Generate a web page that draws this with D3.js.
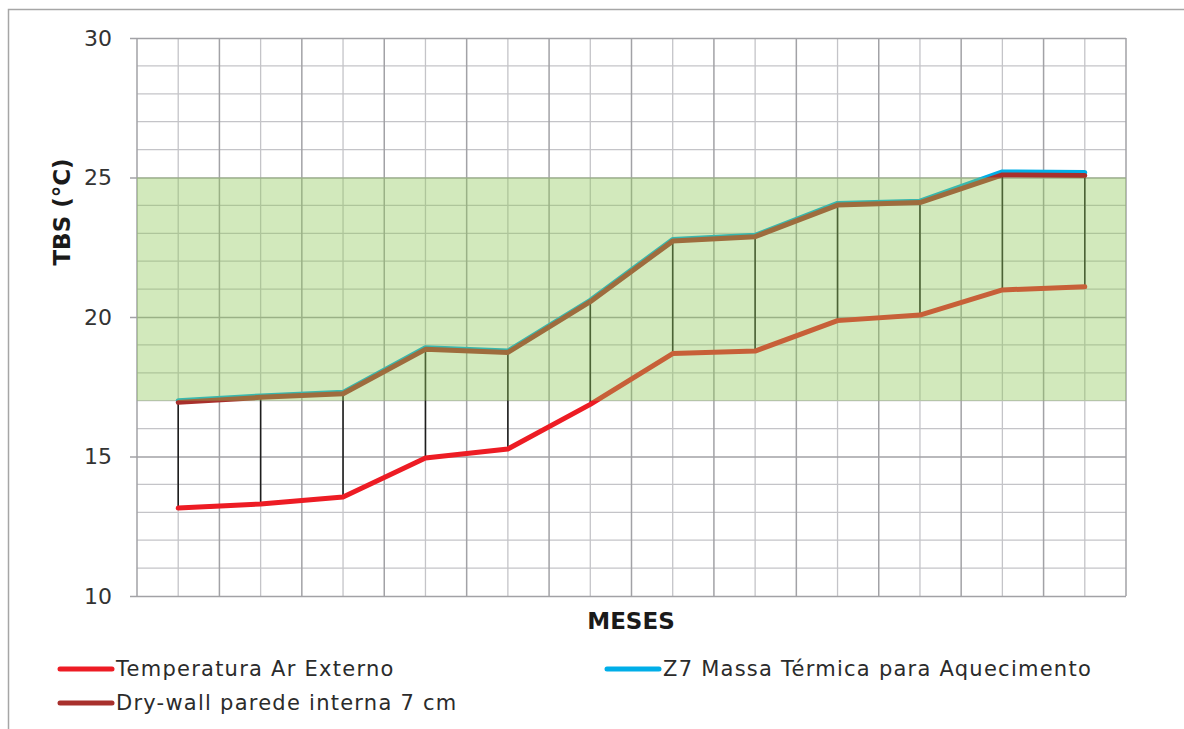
<!DOCTYPE html>
<html>
<head>
<meta charset="utf-8">
<script src="https://cdn.jsdelivr.net/npm/d3@7"></script>
<style>
    body { margin: 0; background: #fff; }
    svg { display: block; font-family: 'DejaVu Sans', 'Open Sans', sans-serif; }
</style>
</head>
<body>
<script>

// months (labels are not shown on the chart)
const months = ['Jan', 'Fev', 'Mar', 'Abr', 'Mai', 'Jun', 'Jul', 'Ago', 'Set', 'Out', 'Nov', 'Dez']

const arExterno = [13.15, 13.3, 13.55, 14.95, 15.27, 16.87, 18.69, 18.78, 19.87, 20.07, 20.97, 21.08]
const z7Massa = [17.0, 17.17, 17.3, 18.9, 18.78, 20.6, 22.78, 22.93, 24.07, 24.15, 25.2, 25.18]
const dryWall = [16.94, 17.12, 17.25, 18.84, 18.73, 20.55, 22.72, 22.88, 24.01, 24.1, 25.09, 25.07]

const comfortBand = [17, 25]
const yTicks = [10, 15, 20, 25, 30]

const series = [
    { name: 'Temperatura Ar Externo', values: arExterno, color: '#ed1c24' },
    { name: 'Z7 Massa Térmica para Aquecimento', values: z7Massa, color: '#00aee8' },
    { name: 'Dry-wall parede interna 7 cm', values: dryWall, color: '#a8302c' },
]

const W = 1184, H = 729
const m = { left: 137, right: 1126, top: 38, bottom: 596 }

const svg = d3.select('body').append('svg')
    .attr('width', W)
    .attr('height', H)

// outer frame (only top and left visible)
svg.append('rect')
    .attr('x', 8.5).attr('y', 9.5)
    .attr('width', W + 20).attr('height', H + 20)
    .attr('fill', 'none')
    .attr('stroke', '#a6a6a6')
    .attr('stroke-width', 1.5)

const x = d3.scaleBand().domain(months).range([m.left, m.right])
const y = d3.scaleLinear().domain([10, 30]).range([m.bottom, m.top])

const g = svg.append('g')

// grid - minor horizontal
g.selectAll('.hmin')
    .data(d3.range(10, 31).filter(v => v % 5 !== 0))
    .join('line')
    .attr('x1', m.left).attr('x2', m.right)
    .attr('y1', d => y(d)).attr('y2', d => y(d))
    .attr('stroke', '#c4c4c8').attr('stroke-width', 1.3)

// grid - minor vertical (category centers)
g.selectAll('.vmin')
    .data(months)
    .join('line')
    .attr('x1', d => x(d) + x.bandwidth() / 2).attr('x2', d => x(d) + x.bandwidth() / 2)
    .attr('y1', m.top).attr('y2', m.bottom)
    .attr('stroke', '#c4c4c8').attr('stroke-width', 1.3)

// grid - major vertical (category borders)
g.selectAll('.vmaj')
    .data(months.slice(1).concat(['end']))
    .join('line')
    .attr('x1', (d, i) => i < 11 ? x(d) : m.right)
    .attr('x2', (d, i) => i < 11 ? x(d) : m.right)
    .attr('y1', m.top).attr('y2', m.bottom)
    .attr('stroke', '#a2a2a6').attr('stroke-width', 1.5)

// y axis with major grid
const yAxis = d3.axisLeft(y)
    .tickValues(yTicks)
    .tickSize(m.left - m.right)
    .tickSizeOuter(0)
    .tickPadding(25)

g.append('g')
    .attr('transform', `translate(${m.left},0)`)
    .call(yAxis)
    .call(a => a.select('.domain').remove())
    .call(a => a.selectAll('.tick line')
        .attr('x1', -7)
        .attr('stroke', '#a2a2a6')
        .attr('stroke-width', 1.5))
    .call(a => a.selectAll('.tick text')
        .attr('font-size', 22)
        .attr('fill', '#333')
        .attr('font-family', "'DejaVu Sans', sans-serif"))

// left axis line
g.append('line')
    .attr('x1', m.left).attr('x2', m.left)
    .attr('y1', m.top).attr('y2', m.bottom)
    .attr('stroke', '#a2a2a6').attr('stroke-width', 1.5)

const cx = i => x(months[i]) + x.bandwidth() / 2

// drop lines between dry-wall and external air
g.selectAll('.drop')
    .data(months)
    .join('line')
    .attr('x1', (d, i) => cx(i)).attr('x2', (d, i) => cx(i))
    .attr('y1', (d, i) => y(dryWall[i])).attr('y2', (d, i) => y(arExterno[i]))
    .attr('stroke', '#1e1e1e').attr('stroke-width', 1.6)

const line = d3.line()
    .x((d, i) => cx(i))
    .y(d => y(d))

series.forEach(s => {
    g.append('path')
        .datum(s.values)
        .attr('d', line)
        .attr('fill', 'none')
        .attr('stroke', s.color)
        .attr('stroke-width', 5)
        .attr('stroke-linejoin', 'round')
        .attr('stroke-linecap', 'round')
})

// comfort band (semi-transparent, on top)
g.append('rect')
    .attr('x', m.left)
    .attr('width', m.right - m.left)
    .attr('y', y(comfortBand[1]))
    .attr('height', y(comfortBand[0]) - y(comfortBand[1]))
    .attr('fill', '#8ec958')
    .attr('fill-opacity', 0.4)

// axis titles
svg.append('text')
    .attr('transform', `translate(70,212) rotate(-90)`)
    .attr('text-anchor', 'middle')
    .attr('font-size', 23)
    .attr('font-weight', 'bold')
    .attr('fill', '#1a1a1a')
    .text('TBS (°C)')

svg.append('text')
    .attr('x', 631).attr('y', 629)
    .attr('text-anchor', 'middle')
    .attr('font-size', 23)
    .attr('font-weight', 'bold')
    .attr('fill', '#1a1a1a')
    .text('MESES')

// legend
const legendPos = [[60, 669], [607, 669], [60, 703]]
series.forEach((s, i) => {
    const [lx, ly] = legendPos[i]
    const lg = svg.append('g').attr('transform', `translate(${lx},${ly})`)
    lg.append('line')
        .attr('x1', 0).attr('x2', 52)
        .attr('stroke', s.color)
        .attr('stroke-width', 5)
        .attr('stroke-linecap', 'round')
    lg.append('text')
        .attr('x', 56).attr('y', 7)
        .attr('font-size', 21)
        .attr('letter-spacing', 1.25)
        .attr('fill', '#2b2b2b')
        .text(s.name)
})

</script>
</body>
</html>
